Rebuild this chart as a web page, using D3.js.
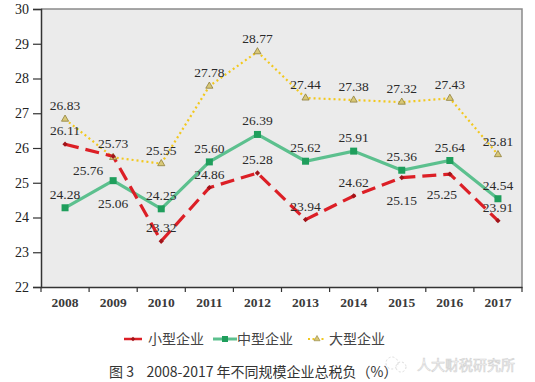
<!DOCTYPE html>
<html><head><meta charset="utf-8">
<script src="https://cdn.jsdelivr.net/npm/d3@7"></script>
<style>body{margin:0;background:#fff}svg{display:block}</style>
</head><body><svg id="c" width="535" height="382"></svg>
<script>
const years = ["2008","2009","2010","2011","2012","2013","2014","2015","2016","2017"];
const small = [26.11,25.76,23.32,24.86,25.28,23.94,24.62,25.15,25.25,23.91];
const medium = [24.28,25.06,24.25,25.60,26.39,25.62,25.91,25.36,25.64,24.54];
const large = [26.83,25.73,25.55,27.78,28.77,27.44,27.38,27.32,27.43,25.81];
const yTicks = [22,23,24,25,26,27,28,29,30];
const seriesNames = ["小型企业","中型企业","大型企业"];
// label placement: "a" above, "b" below, "bl" below-left
const smallPos = ["a","bl","a","a","a","a","a","b","bl2","a"];
const mediumPos = ["a","b","a","a","a","a","a","a","a","a"];
const largePos = ["a","a","a","a","a","a","a","a","a","a"];

const svg = d3.select("#c");
const L=41,R=522,T=9,B=287;
const x = d3.scaleBand().domain(years).range([L,R]).padding(0);
const y = d3.scaleLinear().domain([22,30]).range([B,T]);
const cx = d => x(d)+x.bandwidth()/2;
const font = "'Liberation Serif','Times New Roman',serif";

svg.append("rect").attr("x",L).attr("y",T).attr("width",R-L).attr("height",B-T).attr("fill","#ebebeb");
svg.append("path").attr("d",`M${L},${T}H${R}V${B}`).attr("fill","none").attr("stroke","#8a8a8a").attr("stroke-width",1.5);

const ya = svg.append("g").attr("transform",`translate(${L},0)`)
  .call(d3.axisLeft(y).tickValues(yTicks).tickSize(8).tickPadding(4).tickFormat(d3.format("d")));
const xa = svg.append("g").attr("transform",`translate(0,${B})`)
  .call(d3.axisBottom(x).tickSize(0).tickPadding(10));
// x ticks at band boundaries
svg.append("g").selectAll("line").data(years.concat(["end"])).join("line")
  .attr("x1",(d,i)=>L+i*x.bandwidth()).attr("x2",(d,i)=>L+i*x.bandwidth())
  .attr("y1",B).attr("y2",B+5).attr("stroke","#333").attr("stroke-width",1.2);
[ya,xa].forEach(a=>{
  a.selectAll("path").attr("stroke","#333").attr("stroke-width",1.5);
  a.selectAll("line").attr("stroke","#333").attr("stroke-width",1.2);
  a.selectAll("text").attr("font-family",font).attr("font-size",14).attr("fill","#222");
});
xa.selectAll("text").attr("font-size",13.5).attr("font-weight","bold").attr("fill","#3a3a3a");

const line = d3.line().x((d,i)=>cx(years[i])).y(d=>y(d));

// large (yellow dotted)
svg.append("path").datum(large).attr("d",line).attr("fill","none")
  .attr("stroke","#f2c81e").attr("stroke-width",2.2).attr("stroke-dasharray","2,3");
// medium (green solid)
svg.append("path").datum(medium).attr("d",line).attr("fill","none")
  .attr("stroke","#5cc08e").attr("stroke-width",3.2);
// small (red dashed)
svg.append("path").datum(small).attr("d",line).attr("fill","none")
  .attr("stroke","#dc1f26").attr("stroke-width",3.2).attr("stroke-dasharray","14,7");

// markers
svg.append("g").selectAll("path").data(large).join("path")
  .attr("transform",(d,i)=>`translate(${cx(years[i])},${y(d)})`)
  .attr("d",d3.symbol(d3.symbolTriangle,22)).attr("fill","#d8c878").attr("stroke","#8f7f3a").attr("stroke-width",0.8);
svg.append("g").selectAll("rect").data(medium).join("rect")
  .attr("x",(d,i)=>cx(years[i])-3.5).attr("y",d=>y(d)-3.5).attr("width",7).attr("height",7).attr("fill","#1f9e5c");
svg.append("g").selectAll("path").data(small).join("path")
  .attr("transform",(d,i)=>`translate(${cx(years[i])},${y(d)}) rotate(45)`)
  .attr("d",d3.symbol(d3.symbolSquare,14)).attr("fill","#a0141a");

function labels(data,pos){
  svg.append("g").selectAll("text").data(data).join("text")
    .attr("x",(d,i)=>cx(years[i]) + (pos[i]==="bl"?-25:pos[i]==="bl2"?-8:0))
    .attr("y",(d,i)=>y(d) + (pos[i]==="a"?-9:pos[i]==="bl"?19:pos[i]==="bl2"?25:27))
    .attr("text-anchor","middle").attr("font-family",font).attr("font-size",13.5).attr("fill","#2a2a2a")
    .text(d=>d.toFixed(2));
}
labels(large,largePos);
labels(medium,mediumPos);
labels(small,smallPos);

// legend
const lg = svg.append("g").attr("font-family","'Noto Sans CJK SC',sans-serif").attr("font-size",14).attr("fill","#444");
const ly=339;
lg.append("line").attr("x1",124).attr("x2",142).attr("y1",ly).attr("y2",ly).attr("stroke","#dc1f26").attr("stroke-width",2.5);
lg.append("path").attr("transform",`translate(133,${ly}) rotate(45)`).attr("d",d3.symbol(d3.symbolSquare,10)).attr("fill","#a0141a");
lg.append("text").attr("x",148).attr("y",ly+5).text(seriesNames[0]);
lg.append("line").attr("x1",213).attr("x2",237).attr("y1",ly).attr("y2",ly).attr("stroke","#5cc08e").attr("stroke-width",3);
lg.append("rect").attr("x",222).attr("y",ly-3).attr("width",6).attr("height",6).attr("fill","#1f9e5c");
lg.append("text").attr("x",237).attr("y",ly+5).text(seriesNames[1]);
lg.append("line").attr("x1",308).attr("x2",326).attr("y1",ly).attr("y2",ly).attr("stroke","#f2c81e").attr("stroke-width",2).attr("stroke-dasharray","2,2.5");
lg.append("path").attr("transform",`translate(317,${ly})`).attr("d",d3.symbol(d3.symbolTriangle,16)).attr("fill","#d8c878").attr("stroke","#8f7f3a").attr("stroke-width",0.6);
lg.append("text").attr("x",329).attr("y",ly+5).text(seriesNames[2]);

// caption
svg.append("text").attr("x",109).attr("y",377).attr("font-family","'Noto Sans CJK SC',sans-serif")
  .attr("font-size",14).attr("fill","#333").attr("xml:space","preserve").text("图 3    2008-2017 年不同规模企业总税负（%）");
// watermark
const wm = svg.append("g").attr("opacity",0.5);
wm.append("circle").attr("cx",392).attr("cy",363).attr("r",6).attr("fill","none").attr("stroke","#bbb").attr("stroke-dasharray","2,2");
wm.append("circle").attr("cx",401).attr("cy",367).attr("r",5).attr("fill","none").attr("stroke","#bbb").attr("stroke-dasharray","2,2");
wm.append("text").attr("x",417).attr("y",370).attr("font-family","'Noto Sans CJK SC',sans-serif")
  .attr("font-size",14).attr("fill","#fff").attr("stroke","#aaa").attr("stroke-width",0.7).text("人大财税研究所");
</script></body></html>
